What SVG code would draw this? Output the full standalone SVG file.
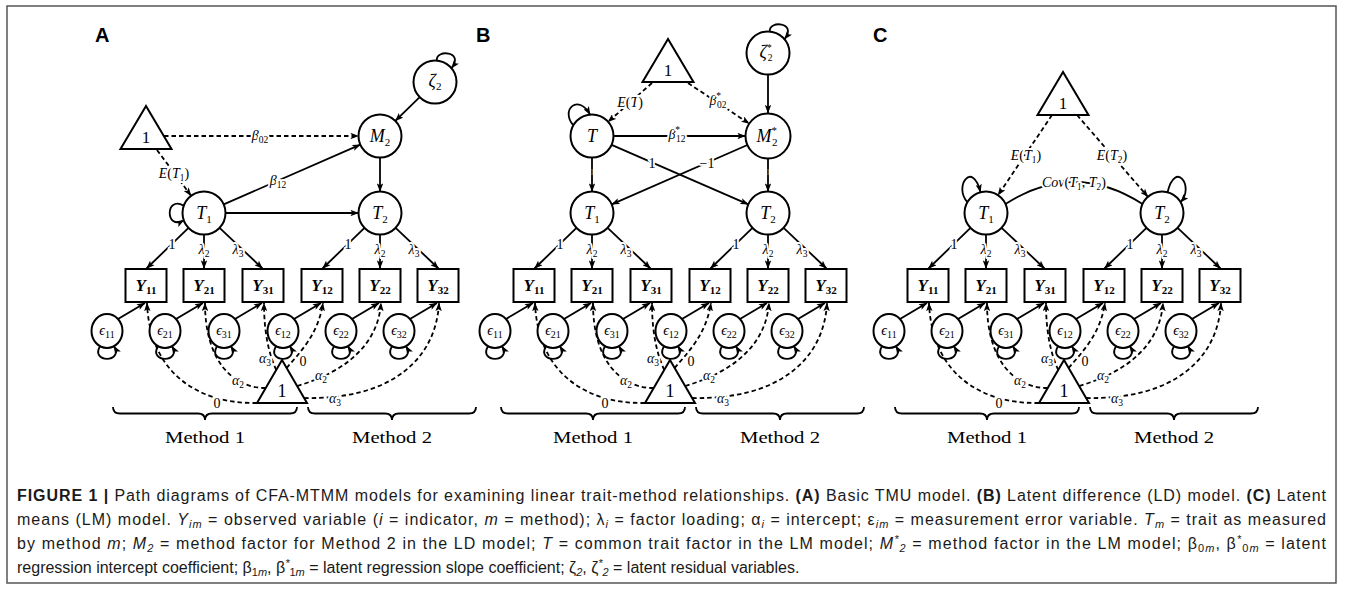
<svg xmlns="http://www.w3.org/2000/svg" width="1356" height="589" viewBox="0 0 1356 589">
<style>
.ln{fill:none;stroke:#000;stroke-width:1.8}
.ds{stroke-dasharray:4.5 3}
.nd{fill:#fff;stroke:#000;stroke-width:2}
.tx{font-family:"Liberation Serif","DejaVu Serif",serif;fill:#000;text-anchor:middle}
.it{font-style:italic}
.lb{font-size:14px;stroke:#fff;stroke-width:4;stroke-linejoin:round;paint-order:stroke}
.nv{font-size:18px;font-style:italic}
.yv{font-size:17px;font-style:italic;font-weight:bold}
.ev{font-size:14px;font-style:italic}
.ev tspan{font-size:10px;font-style:normal}
.s9{font-size:9.5px;font-style:normal}
.s11{font-size:11px;font-style:normal}
.tiny{font-size:9px;fill:#888}
.pl{font-family:"Liberation Sans",Arial,sans-serif;font-size:20px;font-weight:bold}
.me{font-size:17.5px}
.cap{font-family:"Liberation Sans",Arial,sans-serif;font-size:16px;fill:#1a1a1a}
.cs{font-size:11px;font-style:italic}
.b{font-weight:bold}
</style>
<defs>
<marker id="ah" viewBox="0 0 8 6" refX="7.6" refY="3" markerWidth="8.5" markerHeight="6.4" markerUnits="userSpaceOnUse" orient="auto"><path d="M0,0 L8,3 L0,6 L1.8,3 z" fill="#000"/></marker>
</defs>

<rect id="frame" x="7" y="6" width="1329" height="577" fill="none" stroke="#555" stroke-width="1.5"/>

<!-- ===== Panel A: basic TMU model ===== -->
<g id="panel-a">
<text class="pl" x="95" y="42">A</text>
<g id="a-connectors">
 <path class="ln" marker-end="url(#ah)" d="M419.7,97.1 L395.3,120.9"/>
 <path class="ln ds" marker-end="url(#ah)" d="M164,136 L358.5,136"/>
 <path class="ln ds" marker-end="url(#ah)" d="M157,150 L191,195.6"/>
 <path class="ln" marker-end="url(#ah)" d="M223.7,204.4 L360.3,144.6"/>
 <path class="ln" marker-end="url(#ah)" d="M380,157.5 L380,191.5"/>
 <path class="ln" marker-end="url(#ah)" d="M225.5,213 L358.5,213"/>
 <path class="ln" marker-end="url(#ah)" d="M183.8,205.7 C165,195 165,231 183.8,220.3"/>
 <path class="ln" marker-end="url(#ah)" d="M436.9,60.6 C435,49 465,51 451.5,68.2"/>
 <text class="tx lb" x="260" y="140"><tspan class="it">β</tspan><tspan class="s9" dy="3">02</tspan></text>
 <text class="tx lb" x="174" y="177.5"><tspan class="it">E</tspan>(<tspan class="it">T</tspan><tspan class="s9" dy="3">1</tspan><tspan dy="-3">)</tspan></text>
 <text class="tx lb" x="278" y="184.5"><tspan class="it">β</tspan><tspan class="s9" dy="3">12</tspan></text>
</g>
<g id="a-tri-top"><polygon class="nd" points="146,106 120.5,149 171.5,149"/><text class="tx" x="146" y="143" font-size="17">1</text></g>
<g id="a-zeta2"><circle class="nd" cx="435" cy="82" r="21.5"/><text class="tx nv" x="435" y="87">ζ<tspan class="s11" dy="3">2</tspan></text></g>
<g id="a-M2"><circle class="nd" cx="380" cy="136" r="21.5"/><text class="tx nv" x="380" y="142">M<tspan class="s11" dy="3.5">2</tspan></text></g>
<g id="a-T1"><circle class="nd" cx="204" cy="213" r="21.5"/><text class="tx nv" x="204" y="219">T<tspan class="s11" dy="3.5">1</tspan></text></g>
<g id="a-T2"><circle class="nd" cx="380" cy="213" r="21.5"/><text class="tx nv" x="380" y="219">T<tspan class="s11" dy="3.5">2</tspan></text></g>

<g id="a-lower">
 <g id="a-lower-connectors">
  <path class="ln" marker-end="url(#ah)" d="M188.5,227.9 L146.5,268.5"/>
  <path class="ln" marker-end="url(#ah)" d="M204,234.5 L204,268.5"/>
  <path class="ln" marker-end="url(#ah)" d="M219.6,227.8 L262.5,268.5"/>
  <path class="ln" marker-end="url(#ah)" d="M364.5,227.9 L322.5,268.5"/>
  <path class="ln" marker-end="url(#ah)" d="M380,234.5 L380,268.5"/>
  <path class="ln" marker-end="url(#ah)" d="M395.6,227.8 L438.5,268.5"/>
  <path class="ln" marker-end="url(#ah)" d="M118,319 L145,303"/>
  <path class="ln" marker-end="url(#ah)" d="M176,319 L203,303"/>
  <path class="ln" marker-end="url(#ah)" d="M235,319 L262,303"/>
  <path class="ln" marker-end="url(#ah)" d="M294,319 L321,303"/>
  <path class="ln" marker-end="url(#ah)" d="M352,319 L379,303"/>
  <path class="ln" marker-end="url(#ah)" d="M410,319 L437,303"/>
  <path class="ln" marker-end="url(#ah)" d="M100,346.2 C90,363 124,363 114,346.2"/>
  <path class="ln" marker-end="url(#ah)" d="M158,346.2 C148,363 182,363 172,346.2"/>
  <path class="ln" marker-end="url(#ah)" d="M217,346.2 C207,363 241,363 231,346.2"/>
  <path class="ln" marker-end="url(#ah)" d="M276,346.2 C266,363 300,363 290,346.2"/>
  <path class="ln" marker-end="url(#ah)" d="M334,346.2 C324,363 358,363 348,346.2"/>
  <path class="ln" marker-end="url(#ah)" d="M392,346.2 C382,363 416,363 406,346.2"/>
  <path class="ln ds" marker-end="url(#ah)" d="M257,403 C200,404 150,375 147,303"/>
  <path class="ln ds" marker-end="url(#ah)" d="M265.7,388 C232,388 205,360 205,303"/>
  <path class="ln ds" marker-end="url(#ah)" d="M276.2,370 C268,352 264,330 264,303"/>
  <path class="ln ds" marker-end="url(#ah)" d="M286.7,368 C300,352 318,335 323,303"/>
  <path class="ln ds" marker-end="url(#ah)" d="M297.1,386 C345,372 378,345 381,303"/>
  <path class="ln ds" marker-end="url(#ah)" d="M304.1,398 C390,400 436,360 439,303"/>
  <text class="tx lb" x="172" y="249">1</text>
  <text class="tx lb" x="204" y="253.5"><tspan class="it">λ</tspan><tspan class="s9" dy="3">2</tspan></text>
  <text class="tx lb" x="238" y="253.5"><tspan class="it">λ</tspan><tspan class="s9" dy="3">3</tspan></text>
  <text class="tx lb" x="348" y="249">1</text>
  <text class="tx lb" x="380" y="253.5"><tspan class="it">λ</tspan><tspan class="s9" dy="3">2</tspan></text>
  <text class="tx lb" x="414" y="253.5"><tspan class="it">λ</tspan><tspan class="s9" dy="3">3</tspan></text>
  <text class="tx lb" x="217" y="408">0</text>
  <text class="tx lb" x="238" y="384.5"><tspan class="it">α</tspan><tspan class="s9" dy="3">2</tspan></text>
  <text class="tx lb" x="265" y="362.5"><tspan class="it">α</tspan><tspan class="s9" dy="3">3</tspan></text>
  <text class="tx lb" x="303" y="365.5">0</text>
  <text class="tx lb" x="321" y="379.5"><tspan class="it">α</tspan><tspan class="s9" dy="3">2</tspan></text>
  <text class="tx lb" x="335" y="402.5"><tspan class="it">α</tspan><tspan class="s9" dy="3">3</tspan></text>
 </g>
 <g id="a-Y11"><rect class="nd" x="125.5" y="269" width="41" height="33"/><text class="tx yv" x="146" y="291">Y<tspan class="s11" dy="3">11</tspan></text></g>
 <g id="a-Y21"><rect class="nd" x="183.5" y="269" width="41" height="33"/><text class="tx yv" x="204" y="291">Y<tspan class="s11" dy="3">21</tspan></text></g>
 <g id="a-Y31"><rect class="nd" x="242.5" y="269" width="41" height="33"/><text class="tx yv" x="263" y="291">Y<tspan class="s11" dy="3">31</tspan></text></g>
 <g id="a-Y12"><rect class="nd" x="301.5" y="269" width="41" height="33"/><text class="tx yv" x="322" y="291">Y<tspan class="s11" dy="3">12</tspan></text></g>
 <g id="a-Y22"><rect class="nd" x="359.5" y="269" width="41" height="33"/><text class="tx yv" x="380" y="291">Y<tspan class="s11" dy="3">22</tspan></text></g>
 <g id="a-Y32"><rect class="nd" x="417.5" y="269" width="41" height="33"/><text class="tx yv" x="438" y="291">Y<tspan class="s11" dy="3">32</tspan></text></g>
 <g id="a-e11"><ellipse class="nd" cx="107" cy="331" rx="15.5" ry="17"/><text class="tx ev" x="107" y="335">ϵ<tspan dy="2.5">11</tspan></text></g>
 <g id="a-e21"><ellipse class="nd" cx="165" cy="331" rx="15.5" ry="17"/><text class="tx ev" x="165" y="335">ϵ<tspan dy="2.5">21</tspan></text></g>
 <g id="a-e31"><ellipse class="nd" cx="224" cy="331" rx="15.5" ry="17"/><text class="tx ev" x="224" y="335">ϵ<tspan dy="2.5">31</tspan></text></g>
 <g id="a-e12"><ellipse class="nd" cx="283" cy="331" rx="15.5" ry="17"/><text class="tx ev" x="283" y="335">ϵ<tspan dy="2.5">12</tspan></text></g>
 <g id="a-e22"><ellipse class="nd" cx="341" cy="331" rx="15.5" ry="17"/><text class="tx ev" x="341" y="335">ϵ<tspan dy="2.5">22</tspan></text></g>
 <g id="a-e32"><ellipse class="nd" cx="399" cy="331" rx="15.5" ry="17"/><text class="tx ev" x="399" y="335">ϵ<tspan dy="2.5">32</tspan></text></g>
 <g id="a-tri-bottom"><polygon class="nd" points="282,360 257,403 307,403"/><text class="tx" x="282" y="397" font-size="18">1</text></g>
 <g id="a-braces">
  <path class="ln" d="M113,407 Q113,413.5 120,413.5 L198,413.5 Q205,413.5 205,420 Q205,413.5 212,413.5 L290,413.5 Q297,413.5 297,407"/>
  <path class="ln" d="M308,407 Q308,413.5 315,413.5 L385,413.5 Q392,413.5 392,420 Q392,413.5 399,413.5 L469,413.5 Q476,413.5 476,407"/>
  <text class="tx me" x="205" y="443" textLength="80" lengthAdjust="spacingAndGlyphs">Method 1</text>
  <text class="tx me" x="392" y="443" textLength="80" lengthAdjust="spacingAndGlyphs">Method 2</text>
 </g>
</g>
</g>

<!-- ===== Panel B: latent difference model ===== -->
<g id="panel-b">
<text class="pl" x="476" y="42">B</text>
<g id="b-connectors">
 <path class="ln" marker-end="url(#ah)" d="M768,74.5 L768,113"/>
 <path class="ln ds" marker-end="url(#ah)" d="M652,83 L608.1,121.8"/>
 <path class="ln ds" marker-end="url(#ah)" d="M688,83 L749.2,123.6"/>
 <path class="ln" marker-end="url(#ah)" d="M613.5,136 L745.5,136"/>
 <path class="ln" marker-end="url(#ah)" d="M592,157.5 L592,191.5"/>
 <path class="ln" marker-end="url(#ah)" d="M768,158.5 L768,191.5"/>
 <path class="ln" marker-end="url(#ah)" d="M611.6,144.8 L748.3,204.4"/>
 <path class="ln" marker-end="url(#ah)" d="M747.4,145 L611.7,204.4"/>
 <path class="ln" marker-end="url(#ah)" d="M573.4,125.3 C560,110 578,93 590.1,114.6"/>
 <path class="ln" marker-end="url(#ah)" d="M769.9,31.6 C768,20 798,22 784.5,39.2"/>
 <text class="tx lb" x="630" y="106.5"><tspan class="it">E</tspan>(<tspan class="it">T</tspan>)</text>
 <text class="tx lb" x="718" y="105"><tspan class="it">β</tspan><tspan class="s9" dy="-6">*</tspan><tspan class="s9" dx="-4" dy="9">02</tspan></text>
 <text class="tx lb" x="677" y="139"><tspan class="it">β</tspan><tspan class="s9" dy="-6">*</tspan><tspan class="s9" dx="-4" dy="9">12</tspan></text>
 <text class="tx lb" x="652" y="168">1</text>
 <text class="tx lb" x="707" y="168">−1</text>
 <text class="tx tiny" x="592" y="175">1</text>
 <text class="tx tiny" x="768" y="175">1</text>
</g>
<g id="b-tri-top"><polygon class="nd" points="668,39 642.5,82 693.5,82"/><text class="tx" x="668" y="76" font-size="17">1</text></g>
<g id="b-zeta2s"><circle class="nd" cx="768" cy="53" r="21.5"/><text class="tx nv" x="766" y="58">ζ<tspan class="s9" dy="-7">*</tspan><tspan class="s9" dx="-4" dy="10">2</tspan></text></g>
<g id="b-M2s"><circle class="nd" cx="768" cy="136" r="22.5"/><text class="tx nv" x="767" y="142">M<tspan class="s11" dy="-8">*</tspan><tspan class="s11" dx="-5" dy="11.5">2</tspan></text></g>
<g id="b-T"><circle class="nd" cx="592" cy="136" r="21.5"/><text class="tx nv" x="592" y="142">T</text></g>
<g id="b-T1"><circle class="nd" cx="592" cy="213" r="21.5"/><text class="tx nv" x="592" y="219">T<tspan class="s11" dy="3.5">1</tspan></text></g>
<g id="b-T2"><circle class="nd" cx="768" cy="213" r="21.5"/><text class="tx nv" x="768" y="219">T<tspan class="s11" dy="3.5">2</tspan></text></g>

<g id="b-lower" transform="translate(388,0)">
 <g id="b-lower-connectors">
  <path class="ln" marker-end="url(#ah)" d="M188.5,227.9 L146.5,268.5"/>
  <path class="ln" marker-end="url(#ah)" d="M204,234.5 L204,268.5"/>
  <path class="ln" marker-end="url(#ah)" d="M219.6,227.8 L262.5,268.5"/>
  <path class="ln" marker-end="url(#ah)" d="M364.5,227.9 L322.5,268.5"/>
  <path class="ln" marker-end="url(#ah)" d="M380,234.5 L380,268.5"/>
  <path class="ln" marker-end="url(#ah)" d="M395.6,227.8 L438.5,268.5"/>
  <path class="ln" marker-end="url(#ah)" d="M118,319 L145,303"/>
  <path class="ln" marker-end="url(#ah)" d="M176,319 L203,303"/>
  <path class="ln" marker-end="url(#ah)" d="M235,319 L262,303"/>
  <path class="ln" marker-end="url(#ah)" d="M294,319 L321,303"/>
  <path class="ln" marker-end="url(#ah)" d="M352,319 L379,303"/>
  <path class="ln" marker-end="url(#ah)" d="M410,319 L437,303"/>
  <path class="ln" marker-end="url(#ah)" d="M100,346.2 C90,363 124,363 114,346.2"/>
  <path class="ln" marker-end="url(#ah)" d="M158,346.2 C148,363 182,363 172,346.2"/>
  <path class="ln" marker-end="url(#ah)" d="M217,346.2 C207,363 241,363 231,346.2"/>
  <path class="ln" marker-end="url(#ah)" d="M276,346.2 C266,363 300,363 290,346.2"/>
  <path class="ln" marker-end="url(#ah)" d="M334,346.2 C324,363 358,363 348,346.2"/>
  <path class="ln" marker-end="url(#ah)" d="M392,346.2 C382,363 416,363 406,346.2"/>
  <path class="ln ds" marker-end="url(#ah)" d="M257,403 C200,404 150,375 147,303"/>
  <path class="ln ds" marker-end="url(#ah)" d="M265.7,388 C232,388 205,360 205,303"/>
  <path class="ln ds" marker-end="url(#ah)" d="M276.2,370 C268,352 264,330 264,303"/>
  <path class="ln ds" marker-end="url(#ah)" d="M286.7,368 C300,352 318,335 323,303"/>
  <path class="ln ds" marker-end="url(#ah)" d="M297.1,386 C345,372 378,345 381,303"/>
  <path class="ln ds" marker-end="url(#ah)" d="M304.1,398 C390,400 436,360 439,303"/>
  <text class="tx lb" x="172" y="249">1</text>
  <text class="tx lb" x="204" y="253.5"><tspan class="it">λ</tspan><tspan class="s9" dy="3">2</tspan></text>
  <text class="tx lb" x="238" y="253.5"><tspan class="it">λ</tspan><tspan class="s9" dy="3">3</tspan></text>
  <text class="tx lb" x="348" y="249">1</text>
  <text class="tx lb" x="380" y="253.5"><tspan class="it">λ</tspan><tspan class="s9" dy="3">2</tspan></text>
  <text class="tx lb" x="414" y="253.5"><tspan class="it">λ</tspan><tspan class="s9" dy="3">3</tspan></text>
  <text class="tx lb" x="217" y="408">0</text>
  <text class="tx lb" x="238" y="384.5"><tspan class="it">α</tspan><tspan class="s9" dy="3">2</tspan></text>
  <text class="tx lb" x="265" y="362.5"><tspan class="it">α</tspan><tspan class="s9" dy="3">3</tspan></text>
  <text class="tx lb" x="303" y="365.5">0</text>
  <text class="tx lb" x="321" y="379.5"><tspan class="it">α</tspan><tspan class="s9" dy="3">2</tspan></text>
  <text class="tx lb" x="335" y="402.5"><tspan class="it">α</tspan><tspan class="s9" dy="3">3</tspan></text>
 </g>
 <g id="b-Y11"><rect class="nd" x="125.5" y="269" width="41" height="33"/><text class="tx yv" x="146" y="291">Y<tspan class="s11" dy="3">11</tspan></text></g>
 <g id="b-Y21"><rect class="nd" x="183.5" y="269" width="41" height="33"/><text class="tx yv" x="204" y="291">Y<tspan class="s11" dy="3">21</tspan></text></g>
 <g id="b-Y31"><rect class="nd" x="242.5" y="269" width="41" height="33"/><text class="tx yv" x="263" y="291">Y<tspan class="s11" dy="3">31</tspan></text></g>
 <g id="b-Y12"><rect class="nd" x="301.5" y="269" width="41" height="33"/><text class="tx yv" x="322" y="291">Y<tspan class="s11" dy="3">12</tspan></text></g>
 <g id="b-Y22"><rect class="nd" x="359.5" y="269" width="41" height="33"/><text class="tx yv" x="380" y="291">Y<tspan class="s11" dy="3">22</tspan></text></g>
 <g id="b-Y32"><rect class="nd" x="417.5" y="269" width="41" height="33"/><text class="tx yv" x="438" y="291">Y<tspan class="s11" dy="3">32</tspan></text></g>
 <g id="b-e11"><ellipse class="nd" cx="107" cy="331" rx="15.5" ry="17"/><text class="tx ev" x="107" y="335">ϵ<tspan dy="2.5">11</tspan></text></g>
 <g id="b-e21"><ellipse class="nd" cx="165" cy="331" rx="15.5" ry="17"/><text class="tx ev" x="165" y="335">ϵ<tspan dy="2.5">21</tspan></text></g>
 <g id="b-e31"><ellipse class="nd" cx="224" cy="331" rx="15.5" ry="17"/><text class="tx ev" x="224" y="335">ϵ<tspan dy="2.5">31</tspan></text></g>
 <g id="b-e12"><ellipse class="nd" cx="283" cy="331" rx="15.5" ry="17"/><text class="tx ev" x="283" y="335">ϵ<tspan dy="2.5">12</tspan></text></g>
 <g id="b-e22"><ellipse class="nd" cx="341" cy="331" rx="15.5" ry="17"/><text class="tx ev" x="341" y="335">ϵ<tspan dy="2.5">22</tspan></text></g>
 <g id="b-e32"><ellipse class="nd" cx="399" cy="331" rx="15.5" ry="17"/><text class="tx ev" x="399" y="335">ϵ<tspan dy="2.5">32</tspan></text></g>
 <g id="b-tri-bottom"><polygon class="nd" points="282,360 257,403 307,403"/><text class="tx" x="282" y="397" font-size="18">1</text></g>
 <g id="b-braces">
  <path class="ln" d="M113,407 Q113,413.5 120,413.5 L198,413.5 Q205,413.5 205,420 Q205,413.5 212,413.5 L290,413.5 Q297,413.5 297,407"/>
  <path class="ln" d="M308,407 Q308,413.5 315,413.5 L385,413.5 Q392,413.5 392,420 Q392,413.5 399,413.5 L469,413.5 Q476,413.5 476,407"/>
  <text class="tx me" x="205" y="443" textLength="80" lengthAdjust="spacingAndGlyphs">Method 1</text>
  <text class="tx me" x="392" y="443" textLength="80" lengthAdjust="spacingAndGlyphs">Method 2</text>
 </g>
</g>
</g>

<!-- ===== Panel C: latent means model ===== -->
<g id="panel-c">
<text class="pl" x="873" y="42">C</text>
<g id="c-connectors">
 <path class="ln ds" marker-end="url(#ah)" d="M1052,115 L998,195.2"/>
 <path class="ln ds" marker-end="url(#ah)" d="M1077,115 L1147.9,196.8"/>
 <path class="ln" d="M1005.5,204 Q1074,160 1142.5,204"/>
 <path class="ln" marker-end="url(#ah)" d="M967.4,202.2 C953,186 973,160 980.4,192.2"/>
 <path class="ln" marker-end="url(#ah)" d="M1167.6,192.2 C1175,160 1195,186 1180.6,202.2"/>
 <text class="tx lb" x="1026" y="159.5"><tspan class="it">E</tspan>(<tspan class="it">T</tspan><tspan class="s9" dy="3">1</tspan><tspan dy="-3">)</tspan></text>
 <text class="tx lb" x="1112" y="159.5"><tspan class="it">E</tspan>(<tspan class="it">T</tspan><tspan class="s9" dy="3">2</tspan><tspan dy="-3">)</tspan></text>
 <text class="tx lb" x="1074" y="186.5"><tspan class="it">Cov</tspan>(<tspan class="it">T</tspan><tspan class="s9" dy="3">1</tspan><tspan dy="-3">, </tspan><tspan class="it">T</tspan><tspan class="s9" dy="3">2</tspan><tspan dy="-3">)</tspan></text>
</g>
<g id="c-tri-top"><polygon class="nd" points="1063,72 1037.5,115 1088.5,115"/><text class="tx" x="1063" y="109" font-size="17">1</text></g>
<g id="c-T1"><circle class="nd" cx="986" cy="213" r="21.5"/><text class="tx nv" x="986" y="219">T<tspan class="s11" dy="3.5">1</tspan></text></g>
<g id="c-T2"><circle class="nd" cx="1162" cy="213" r="21.5"/><text class="tx nv" x="1162" y="219">T<tspan class="s11" dy="3.5">2</tspan></text></g>

<g id="c-lower" transform="translate(782,0)">
 <g id="c-lower-connectors">
  <path class="ln" marker-end="url(#ah)" d="M188.5,227.9 L146.5,268.5"/>
  <path class="ln" marker-end="url(#ah)" d="M204,234.5 L204,268.5"/>
  <path class="ln" marker-end="url(#ah)" d="M219.6,227.8 L262.5,268.5"/>
  <path class="ln" marker-end="url(#ah)" d="M364.5,227.9 L322.5,268.5"/>
  <path class="ln" marker-end="url(#ah)" d="M380,234.5 L380,268.5"/>
  <path class="ln" marker-end="url(#ah)" d="M395.6,227.8 L438.5,268.5"/>
  <path class="ln" marker-end="url(#ah)" d="M118,319 L145,303"/>
  <path class="ln" marker-end="url(#ah)" d="M176,319 L203,303"/>
  <path class="ln" marker-end="url(#ah)" d="M235,319 L262,303"/>
  <path class="ln" marker-end="url(#ah)" d="M294,319 L321,303"/>
  <path class="ln" marker-end="url(#ah)" d="M352,319 L379,303"/>
  <path class="ln" marker-end="url(#ah)" d="M410,319 L437,303"/>
  <path class="ln" marker-end="url(#ah)" d="M100,346.2 C90,363 124,363 114,346.2"/>
  <path class="ln" marker-end="url(#ah)" d="M158,346.2 C148,363 182,363 172,346.2"/>
  <path class="ln" marker-end="url(#ah)" d="M217,346.2 C207,363 241,363 231,346.2"/>
  <path class="ln" marker-end="url(#ah)" d="M276,346.2 C266,363 300,363 290,346.2"/>
  <path class="ln" marker-end="url(#ah)" d="M334,346.2 C324,363 358,363 348,346.2"/>
  <path class="ln" marker-end="url(#ah)" d="M392,346.2 C382,363 416,363 406,346.2"/>
  <path class="ln ds" marker-end="url(#ah)" d="M257,403 C200,404 150,375 147,303"/>
  <path class="ln ds" marker-end="url(#ah)" d="M265.7,388 C232,388 205,360 205,303"/>
  <path class="ln ds" marker-end="url(#ah)" d="M276.2,370 C268,352 264,330 264,303"/>
  <path class="ln ds" marker-end="url(#ah)" d="M286.7,368 C300,352 318,335 323,303"/>
  <path class="ln ds" marker-end="url(#ah)" d="M297.1,386 C345,372 378,345 381,303"/>
  <path class="ln ds" marker-end="url(#ah)" d="M304.1,398 C390,400 436,360 439,303"/>
  <text class="tx lb" x="172" y="249">1</text>
  <text class="tx lb" x="204" y="253.5"><tspan class="it">λ</tspan><tspan class="s9" dy="3">2</tspan></text>
  <text class="tx lb" x="238" y="253.5"><tspan class="it">λ</tspan><tspan class="s9" dy="3">3</tspan></text>
  <text class="tx lb" x="348" y="249">1</text>
  <text class="tx lb" x="380" y="253.5"><tspan class="it">λ</tspan><tspan class="s9" dy="3">2</tspan></text>
  <text class="tx lb" x="414" y="253.5"><tspan class="it">λ</tspan><tspan class="s9" dy="3">3</tspan></text>
  <text class="tx lb" x="217" y="408">0</text>
  <text class="tx lb" x="238" y="384.5"><tspan class="it">α</tspan><tspan class="s9" dy="3">2</tspan></text>
  <text class="tx lb" x="265" y="362.5"><tspan class="it">α</tspan><tspan class="s9" dy="3">3</tspan></text>
  <text class="tx lb" x="303" y="365.5">0</text>
  <text class="tx lb" x="321" y="379.5"><tspan class="it">α</tspan><tspan class="s9" dy="3">2</tspan></text>
  <text class="tx lb" x="335" y="402.5"><tspan class="it">α</tspan><tspan class="s9" dy="3">3</tspan></text>
 </g>
 <g id="c-Y11"><rect class="nd" x="125.5" y="269" width="41" height="33"/><text class="tx yv" x="146" y="291">Y<tspan class="s11" dy="3">11</tspan></text></g>
 <g id="c-Y21"><rect class="nd" x="183.5" y="269" width="41" height="33"/><text class="tx yv" x="204" y="291">Y<tspan class="s11" dy="3">21</tspan></text></g>
 <g id="c-Y31"><rect class="nd" x="242.5" y="269" width="41" height="33"/><text class="tx yv" x="263" y="291">Y<tspan class="s11" dy="3">31</tspan></text></g>
 <g id="c-Y12"><rect class="nd" x="301.5" y="269" width="41" height="33"/><text class="tx yv" x="322" y="291">Y<tspan class="s11" dy="3">12</tspan></text></g>
 <g id="c-Y22"><rect class="nd" x="359.5" y="269" width="41" height="33"/><text class="tx yv" x="380" y="291">Y<tspan class="s11" dy="3">22</tspan></text></g>
 <g id="c-Y32"><rect class="nd" x="417.5" y="269" width="41" height="33"/><text class="tx yv" x="438" y="291">Y<tspan class="s11" dy="3">32</tspan></text></g>
 <g id="c-e11"><ellipse class="nd" cx="107" cy="331" rx="15.5" ry="17"/><text class="tx ev" x="107" y="335">ϵ<tspan dy="2.5">11</tspan></text></g>
 <g id="c-e21"><ellipse class="nd" cx="165" cy="331" rx="15.5" ry="17"/><text class="tx ev" x="165" y="335">ϵ<tspan dy="2.5">21</tspan></text></g>
 <g id="c-e31"><ellipse class="nd" cx="224" cy="331" rx="15.5" ry="17"/><text class="tx ev" x="224" y="335">ϵ<tspan dy="2.5">31</tspan></text></g>
 <g id="c-e12"><ellipse class="nd" cx="283" cy="331" rx="15.5" ry="17"/><text class="tx ev" x="283" y="335">ϵ<tspan dy="2.5">12</tspan></text></g>
 <g id="c-e22"><ellipse class="nd" cx="341" cy="331" rx="15.5" ry="17"/><text class="tx ev" x="341" y="335">ϵ<tspan dy="2.5">22</tspan></text></g>
 <g id="c-e32"><ellipse class="nd" cx="399" cy="331" rx="15.5" ry="17"/><text class="tx ev" x="399" y="335">ϵ<tspan dy="2.5">32</tspan></text></g>
 <g id="c-tri-bottom"><polygon class="nd" points="282,360 257,403 307,403"/><text class="tx" x="282" y="397" font-size="18">1</text></g>
 <g id="c-braces">
  <path class="ln" d="M113,407 Q113,413.5 120,413.5 L198,413.5 Q205,413.5 205,420 Q205,413.5 212,413.5 L290,413.5 Q297,413.5 297,407"/>
  <path class="ln" d="M308,407 Q308,413.5 315,413.5 L385,413.5 Q392,413.5 392,420 Q392,413.5 399,413.5 L469,413.5 Q476,413.5 476,407"/>
  <text class="tx me" x="205" y="443" textLength="80" lengthAdjust="spacingAndGlyphs">Method 1</text>
  <text class="tx me" x="392" y="443" textLength="80" lengthAdjust="spacingAndGlyphs">Method 2</text>
 </g>
</g>
</g>

<!-- ===== Caption ===== -->
<g id="caption">
<text class="cap" x="17" y="501" textLength="1309" lengthAdjust="spacing"><tspan class="b">FIGURE 1 |</tspan> Path diagrams of CFA-MTMM models for examining linear trait-method relationships. <tspan class="b">(A)</tspan> Basic TMU model. <tspan class="b">(B)</tspan> Latent difference (LD) model. <tspan class="b">(C)</tspan> Latent</text>
<text class="cap" x="17" y="525" textLength="1309" lengthAdjust="spacing">means (LM) model. <tspan font-style="italic">Y</tspan><tspan class="cs" dy="3">im</tspan><tspan dy="-3"> = observed variable (</tspan><tspan font-style="italic">i</tspan> = indicator, <tspan font-style="italic">m</tspan> = method); λ<tspan class="cs" dy="3">i</tspan><tspan dy="-3"> = factor loading; α</tspan><tspan class="cs" dy="3">i</tspan><tspan dy="-3"> = intercept; ε</tspan><tspan class="cs" dy="3">im</tspan><tspan dy="-3"> = measurement error variable. </tspan><tspan font-style="italic">T</tspan><tspan class="cs" dy="3">m</tspan><tspan dy="-3"> = trait as measured</tspan></text>
<text class="cap" x="17" y="549" textLength="1309" lengthAdjust="spacing">by method <tspan font-style="italic">m</tspan>; <tspan font-style="italic">M</tspan><tspan class="cs" font-style="normal" dy="3">2</tspan><tspan dy="-3"> = method factor for Method 2 in the LD model; </tspan><tspan font-style="italic">T</tspan> = common trait factor in the LM model; <tspan font-style="italic">M</tspan><tspan class="cs" font-style="normal" dy="-6">*</tspan><tspan class="cs" font-style="normal" dy="9">2</tspan><tspan dy="-3"> = method factor in the LM model; β</tspan><tspan class="cs" dy="3"><tspan font-style="normal">0</tspan>m</tspan><tspan dy="-3">, β</tspan><tspan class="cs" font-style="normal" dy="-6">*</tspan><tspan class="cs" dy="9"><tspan font-style="normal">0</tspan>m</tspan><tspan dy="-3"> = latent</tspan></text>
<text class="cap" x="17" y="573">regression intercept coefficient; β<tspan class="cs" dy="3"><tspan font-style="normal">1</tspan>m</tspan><tspan dy="-3">, β</tspan><tspan class="cs" font-style="normal" dy="-6">*</tspan><tspan class="cs" dy="9"><tspan font-style="normal">1</tspan>m</tspan><tspan dy="-3"> = latent regression slope coefficient; ζ</tspan><tspan class="cs" font-style="normal" dy="3">2</tspan><tspan dy="-3">, ζ</tspan><tspan class="cs" font-style="normal" dy="-6">*</tspan><tspan class="cs" font-style="normal" dy="9">2</tspan><tspan dy="-3"> = latent residual variables.</tspan></text>
</g>
</svg>
